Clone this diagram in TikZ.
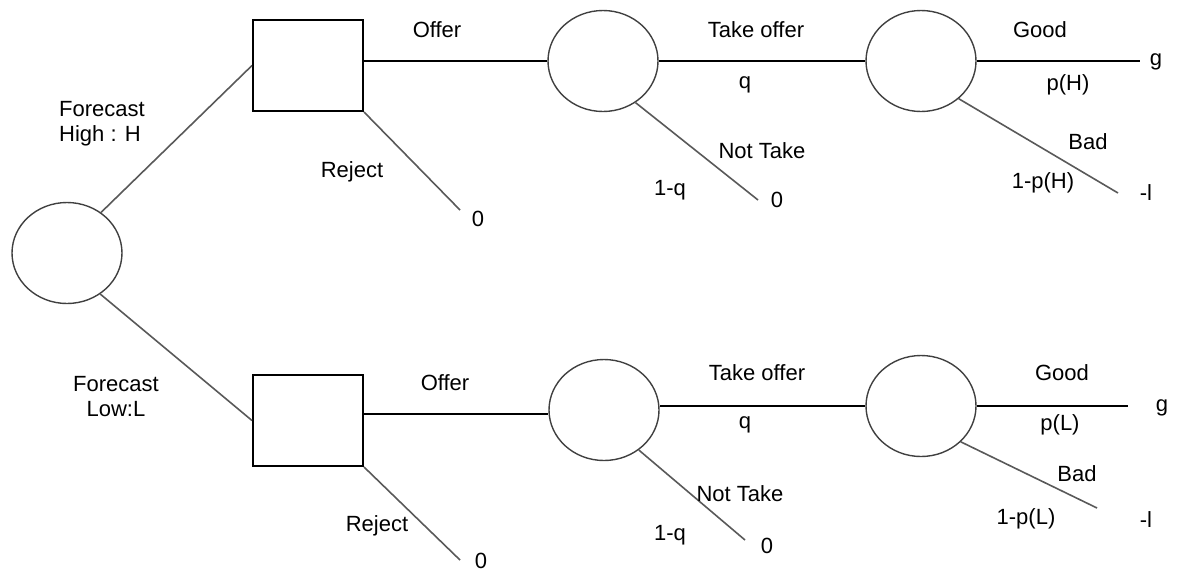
\documentclass[tikz,border=0pt]{standalone}
\usepackage{fontspec}
\setmainfont{Liberation Sans}
\usetikzlibrary{shapes.geometric}
\begin{document}
\begin{tikzpicture}[x=1pt,y=-1pt,
  chance/.style={ellipse,draw=black!75,line width=1.4pt,minimum width=110pt,minimum height=101pt,inner sep=0pt},
  decision/.style={rectangle,draw=black,line width=2pt,minimum width=110pt,minimum height=91pt,inner sep=0pt},
  lbl/.style={font=\fontsize{22}{25}\selectfont,inner sep=0pt,text=black},
  hline/.style={draw=black,line width=1.8pt},
  dline/.style={draw=black!65,line width=1.6pt}]
\useasboundingbox (0,0) rectangle (1196,574);
% nodes
\node[chance] (root) at (67,253) {};
\node[decision] (tsq) at (308,65.5) {};
\node[chance] (tc2) at (603,61) {};
\node[chance] (tc3) at (921,61) {};
\node[decision] (bsq) at (308,420.5) {};
\node[chance] (bc2) at (604,410) {};
\node[chance] (bc3) at (921,406) {};
% free ends
\coordinate (tgood) at (1140,61);
\coordinate (tbad) at (1118,193);
\coordinate (tnot) at (758,200);
\coordinate (trej) at (460,210);
\coordinate (bgood) at (1128,406);
\coordinate (bbad) at (1097,508);
\coordinate (bnot) at (745,540);
\coordinate (brej) at (460,560);
% connectors
\draw[dline] (root.50) -- (tsq.west);
\draw[dline] (root.-51) -- (bsq.west);
\draw[hline] (tsq.east |- tc2.west) -- (tc2.west);
\draw[hline] (tc2.east) -- (tc3.west);
\draw[hline] (tc3.east) -- (tgood);
\draw[dline] (tc3.-45) -- (tbad);
\draw[dline] (tc2.-52) -- (tnot);
\draw[dline] (tsq.south east) -- (trej);
\draw[hline,line width=2.6pt] (bsq.east |- bc2.184) -- (bc2.184);
\draw[hline] (bc2.east |- bc3.west) -- (bc3.west);
\draw[hline] (bc3.east) -- (bgood);
\draw[dline] (bc3.-42) -- (bbad);
\draw[dline] (bc2.-49) -- (bnot);
\draw[dline] (bsq.south east) -- (brej);
% labels top
\node[lbl,align=left,anchor=west] (fh) at (59,124) {Forecast\\High : H};
\node[lbl] (toffer) at (437,30) {Offer};
\node[lbl] (trejl) at (352,172) {Reject};
\node[lbl] (tr0) at (478,219) {0};
\node[lbl] (ttake) at (756,30) {Take offer};
\node[lbl] (tq) at (745,85) {q};
\node[lbl] (tnotl) at (762,151) {Not Take};
\node[lbl] (t1q) at (670,190) {1-q};
\node[lbl] (tn0) at (777,200) {0};
\node[lbl] (tgoodl) at (1040,30) {Good};
\node[lbl] (tph) at (1068,85) {p(H)};
\node[lbl] (tbadl) at (1088,142) {Bad};
\node[lbl] (t1ph) at (1043,183) {1-p(H)};
\node[lbl] (tg) at (1156,62) {g};
\node[lbl] (tl) at (1146,193) {-l};
% labels bottom
\node[lbl,align=center] (fl) at (116,397) {Forecast\\Low:L};
\node[lbl] (boffer) at (445,383) {Offer};
\node[lbl] (brejl) at (377,526) {Reject};
\node[lbl] (br0) at (481,561) {0};
\node[lbl] (btake) at (757,373) {Take offer};
\node[lbl] (bq) at (745,425) {q};
\node[lbl] (bnotl) at (740,494) {Not Take};
\node[lbl] (b1q) at (670,535) {1-q};
\node[lbl] (bn0) at (767,546) {0};
\node[lbl] (bgoodl) at (1062,373) {Good};
\node[lbl] (bpl) at (1060,425) {p(L)};
\node[lbl] (bbadl) at (1077,474) {Bad};
\node[lbl] (b1pl) at (1026,519) {1-p(L)};
\node[lbl] (bg) at (1162,408) {g};
\node[lbl] (bl) at (1146,520) {-l};
\end{tikzpicture}
\end{document}
